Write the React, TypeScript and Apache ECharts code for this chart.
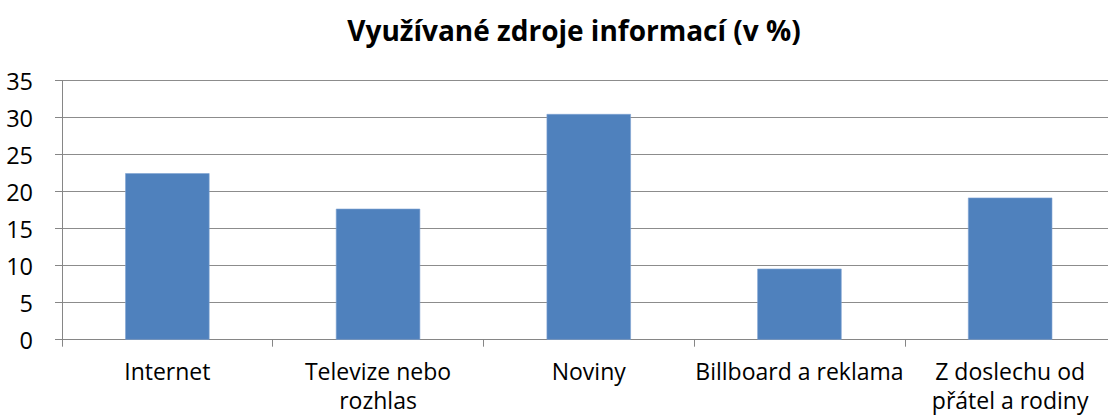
import React, { useEffect, useRef } from "react";
import * as echarts from "echarts";

const title = "Využívané zdroje informací (v %)";
const categories = [
  "Internet",
  "Televize nebo\nrozhlas",
  "Noviny",
  "Billboard a reklama",
  "Z doslechu od\npřátel a rodiny",
];
const values = [22.5, 17.7, 30.5, 9.6, 19.2];
const yMin = 0;
const yMax = 35;
const yStep = 5;

const FONT = "'Open Sans', sans-serif";

export default function App() {
  const ref = useRef<HTMLDivElement>(null);
  useEffect(() => {
    document.body.style.margin = "0";
    const chart = echarts.init(ref.current!, null, { renderer: "svg" });
    chart.setOption({
      animation: false,
      backgroundColor: "#ffffff",
      title: {
        text: title,
        left: 569,
        top: 11,
        textAlign: "center",
        textStyle: {
          fontFamily: FONT,
          fontSize: 28,
          fontWeight: "bold",
          color: "#000000",
        },
      },
      grid: {
        left: 62,
        right: -7.5,
        top: 80.7,
        bottom: 77.3,
        containLabel: false,
        outerBoundsMode: "none",
      },
      xAxis: {
        type: "category",
        data: categories,
        axisLine: { show: true, lineStyle: { color: "#868686", width: 1 } },
        axisTick: { show: true, length: 7, alignWithLabel: false, lineStyle: { color: "#868686" } },
        axisLabel: {
          interval: 0,
          margin: 17,
          fontFamily: FONT,
          fontSize: 23,
          lineHeight: 29,
          color: "#000000",
        },
      },
      yAxis: {
        type: "value",
        min: yMin,
        max: yMax,
        interval: yStep,
        axisLine: { show: true, lineStyle: { color: "#868686", width: 1 } },
        axisTick: { show: true, length: 7, lineStyle: { color: "#868686" } },
        splitLine: { show: true, lineStyle: { color: "#8c8c8c", width: 1.2 } },
        axisLabel: {
          margin: 29,
          fontFamily: FONT,
          fontSize: 23.5,
          color: "#000000",
        },
      },
      series: [
        {
          type: "bar",
          data: values,
          barCategoryGap: "60%",
          itemStyle: { color: "#4F81BD", borderColor: "#7fa3d1", borderWidth: 0.6 },
        },
      ],
    });
    return () => chart.dispose();
  }, []);
  return <div ref={ref} style={{ width: 1108, height: 417, overflow: "hidden" }} />;
}
